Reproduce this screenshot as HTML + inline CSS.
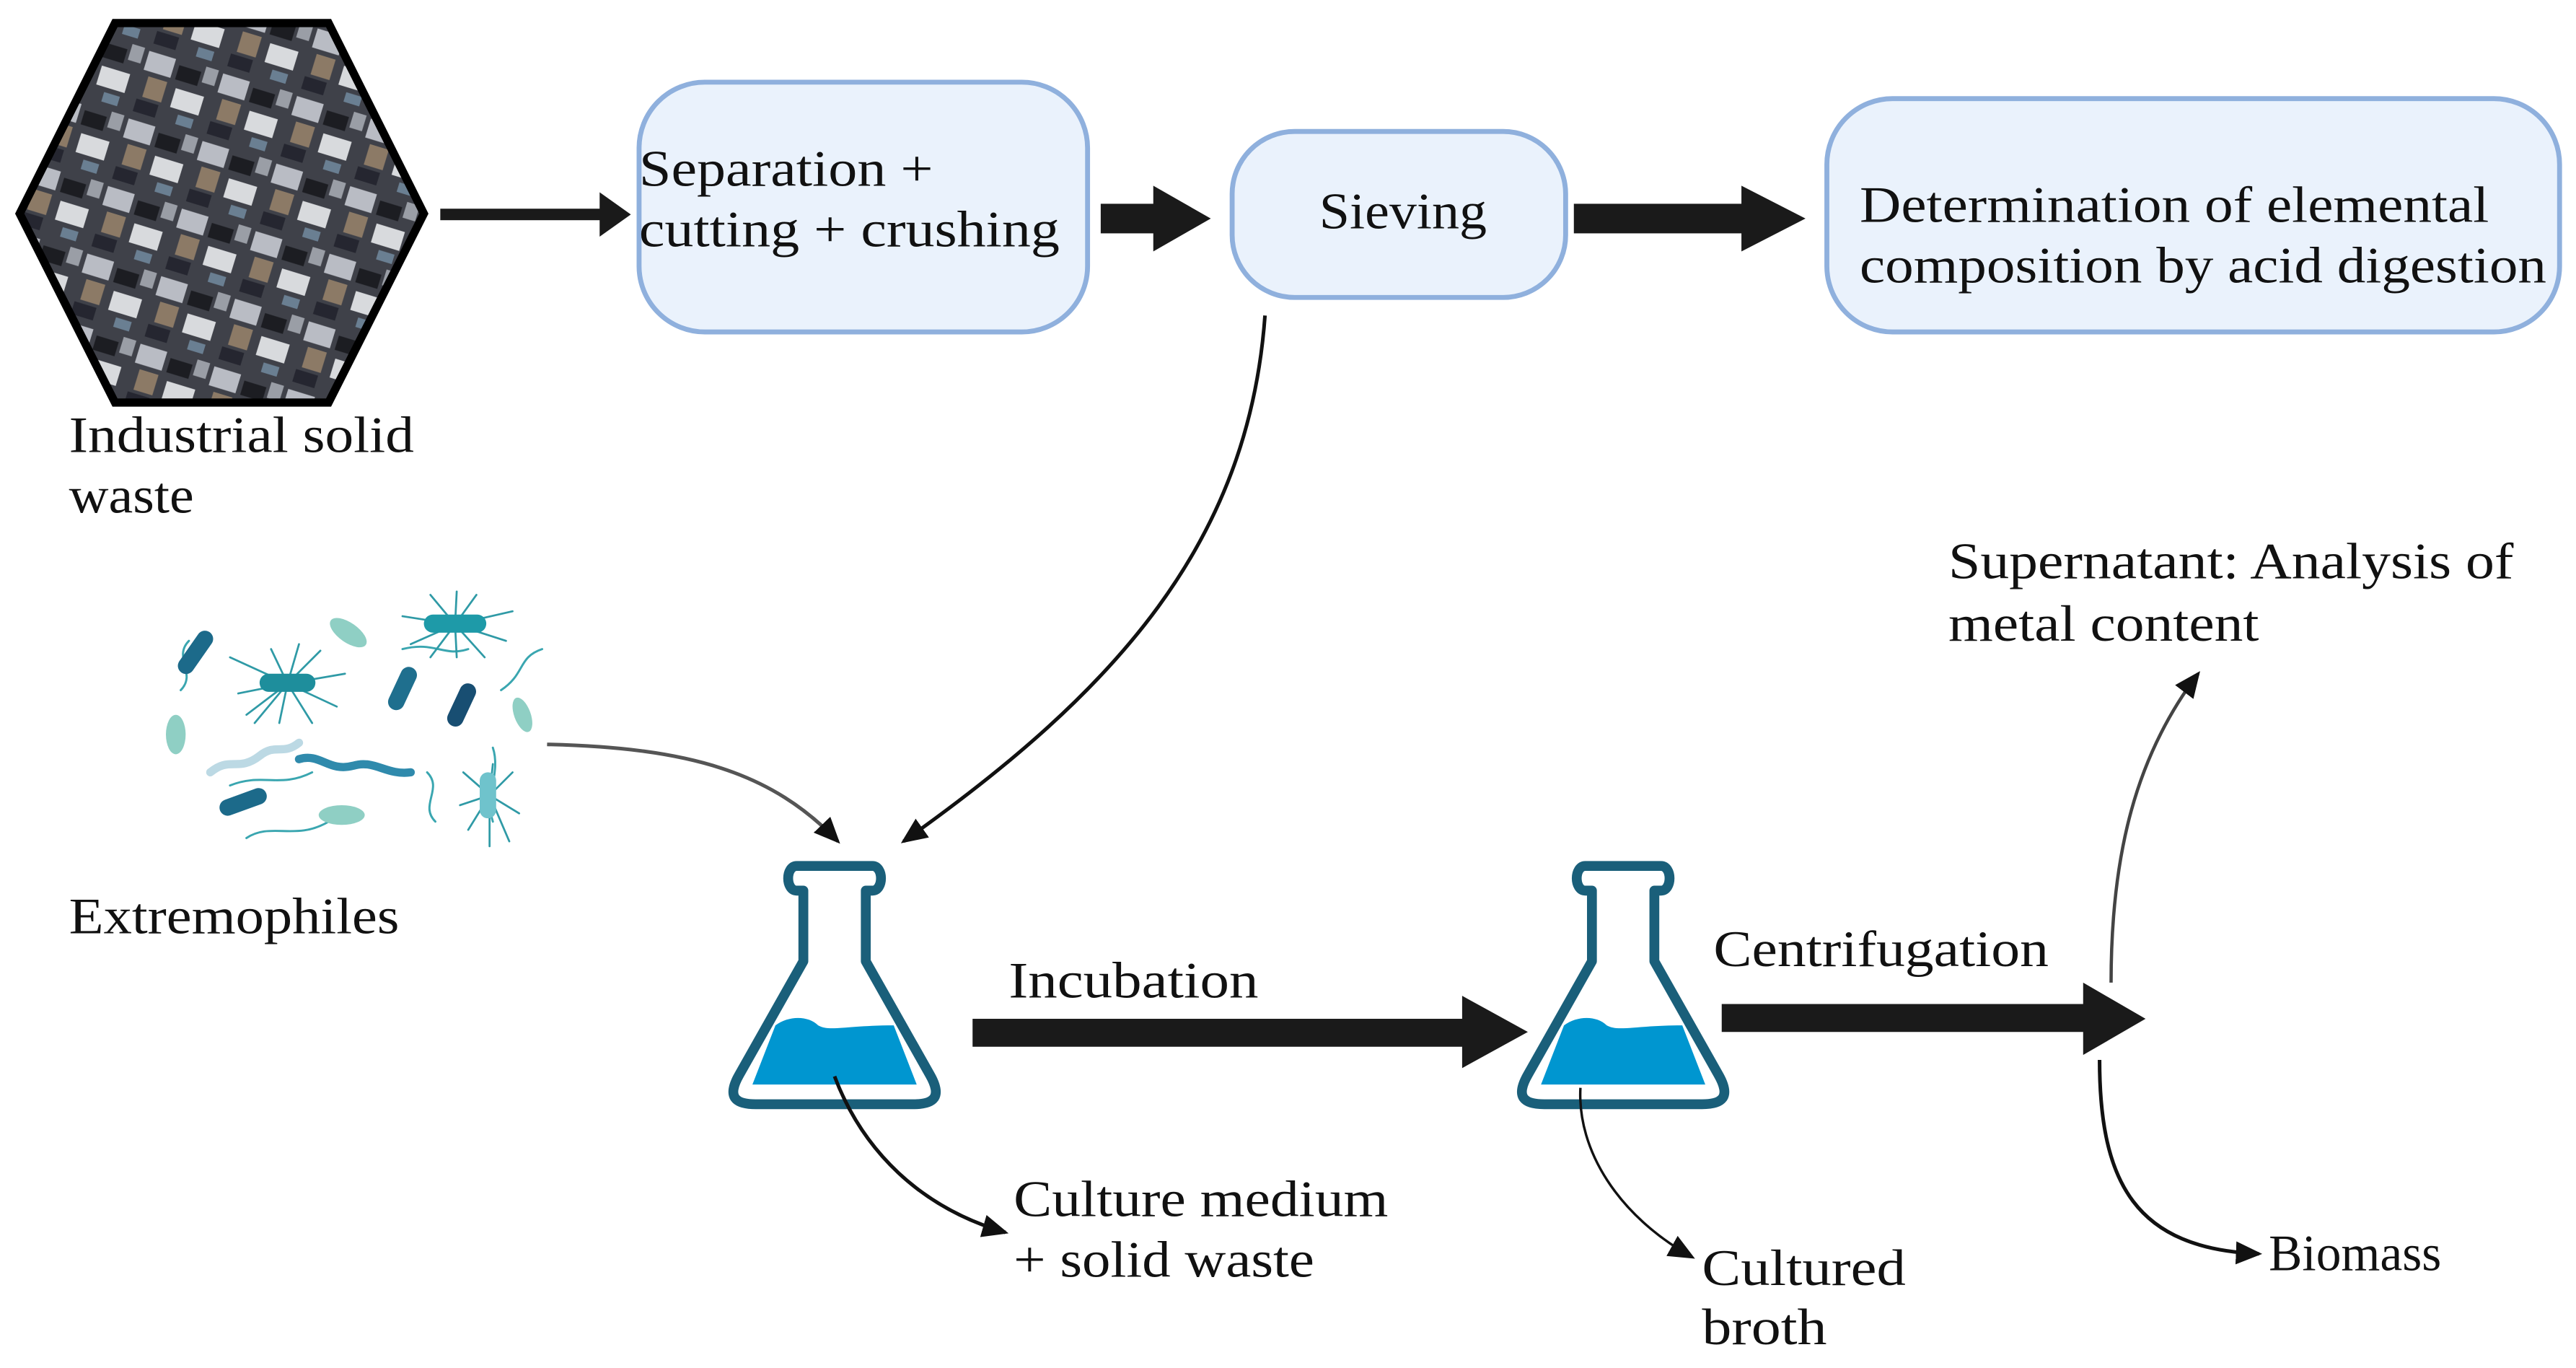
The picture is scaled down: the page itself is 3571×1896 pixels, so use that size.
<!DOCTYPE html>
<html><head><meta charset="utf-8"><style>
html,body{margin:0;padding:0;background:#fff;width:3571px;height:1896px;overflow:hidden}
svg{display:block}
text{font-family:"Liberation Serif",serif;font-size:31px;fill:#111}
</style></head><body>
<svg width="3571" height="1896" viewBox="0 0 1568 832.5" xmlns="http://www.w3.org/2000/svg">
<defs>
<marker id="ah2" markerWidth="16" markerHeight="14" refX="14" refY="7" orient="auto" markerUnits="userSpaceOnUse"><path d="M0,0 L16,7 L0,14 z" fill="#111"/></marker>
<pattern id="junk" width="47" height="43" patternUnits="userSpaceOnUse" patternTransform="rotate(17)">
<rect width="47" height="43" fill="#3f4149"/>
<rect x="2" y="3" width="17" height="12" fill="#b9bcc4"/><rect x="22" y="6" width="14" height="9" fill="#1c1d22"/>
<rect x="6" y="18" width="12" height="13" fill="#8c7a66"/><rect x="24" y="20" width="18" height="12" fill="#d8dadd"/>
<rect x="3" y="33" width="14" height="8" fill="#252630"/><rect x="30" y="35" width="10" height="6" fill="#6a7f92"/>
<rect x="38" y="2" width="8" height="10" fill="#9a9ea6"/>
</pattern>
</defs>

<polygon points="12,130 70,14 200,14 258,130 200,245 70,245" fill="url(#junk)" stroke="#000" stroke-width="5"/>
<text x="42" y="275" textLength="210" lengthAdjust="spacingAndGlyphs">Industrial solid</text>
<text x="42" y="312" textLength="76" lengthAdjust="spacingAndGlyphs">waste</text>

<rect x="268" y="127" width="100" height="7" fill="#1a1a1a"/>
<polygon points="365,117 384,130.5 365,144" fill="#1a1a1a"/>

<rect x="389" y="50" width="273" height="152" rx="40" fill="#eaf2fc" stroke="#8fb0dd" stroke-width="3"/>
<text x="389" y="113" textLength="179" lengthAdjust="spacingAndGlyphs">Separation +</text>
<text x="389" y="150" textLength="256" lengthAdjust="spacingAndGlyphs">cutting + crushing</text>

<rect x="670" y="124" width="34" height="18" fill="#1a1a1a"/>
<polygon points="702,113 737,133 702,153" fill="#1a1a1a"/>

<rect x="750" y="80" width="203" height="101" rx="38" fill="#eaf2fc" stroke="#8fb0dd" stroke-width="3"/>
<text x="803" y="139" textLength="102" lengthAdjust="spacingAndGlyphs">Sieving</text>

<rect x="958" y="124" width="104" height="18" fill="#1a1a1a"/>
<polygon points="1060,113 1099,133 1060,153" fill="#1a1a1a"/>

<rect x="1112" y="60" width="446" height="142" rx="40" fill="#eaf2fc" stroke="#8fb0dd" stroke-width="3"/>
<text x="1132" y="135" textLength="383" lengthAdjust="spacingAndGlyphs">Determination of elemental</text>
<text x="1132" y="172" textLength="418" lengthAdjust="spacingAndGlyphs">composition by acid digestion</text>

<path d="M770,192 C760,330 680,420 550,512" fill="none" stroke="#111" stroke-width="2.2" marker-end="url(#ah2)"/>

<g stroke-linecap="round" fill="none">
<g stroke="#3aa6b0" stroke-width="1.3">
<path d="M140,478 C160,470 170,480 190,470"/><path d="M150,510 C165,500 180,512 200,500"/>
<path d="M110,420 C120,410 105,400 115,390"/><path d="M300,455 C305,470 295,485 300,500"/>
<path d="M245,395 C265,390 270,400 285,395"/><path d="M260,470 C270,480 255,490 265,500"/>
<path d="M305,420 C320,410 315,400 330,395"/>
</g>
<g stroke="#2f9aa6" stroke-width="1.2">
<path d="M175,416 L140,400 M175,416 L145,422 M175,416 L150,435 M175,416 L165,395 M175,416 L182,392 M175,416 L195,396 M175,416 L210,410 M175,416 L205,430 M175,416 L190,440 M175,416 L170,440 M175,416 L155,440"/>
<path d="M277,380 L245,375 M277,380 L250,392 M277,380 L262,362 M277,380 L278,360 M277,380 L290,362 M277,380 L312,372 M277,380 L308,390 M277,380 L295,400 M277,380 L278,400 M277,380 L262,400"/>
<path d="M298,484 L282,470 M298,484 L280,490 M298,484 L285,505 M298,484 L300,465 M298,484 L312,470 M298,484 L316,495 M298,484 L310,512 M298,484 L298,515"/>
</g>
</g>
<g>
<rect x="158" y="410" width="34" height="11" rx="5.5" fill="#1e8e9c"/>
<rect x="258" y="374" width="38" height="11" rx="5.5" fill="#1e9aa8"/>
<rect x="292" y="470" width="10" height="28" rx="5" fill="#6fc3cc"/>
<rect x="114" y="382" width="10" height="30" rx="5" fill="#1c6a8a" transform="rotate(35 119 397)"/>
<rect x="240" y="405" width="10" height="28" rx="5" fill="#1f6f8e" transform="rotate(25 245 419)"/>
<rect x="276" y="415" width="10" height="28" rx="5" fill="#184e72" transform="rotate(25 281 429)"/>
<rect x="133" y="483" width="30" height="10" rx="5" fill="#1c6a8a" transform="rotate(-20 148 488)"/>
<ellipse cx="212" cy="385" rx="13" ry="6" fill="#8fcfc4" transform="rotate(35 212 385)"/>
<ellipse cx="107" cy="447" rx="6" ry="12" fill="#8fcfc4"/>
<ellipse cx="318" cy="435" rx="5" ry="11" fill="#8fcfc4" transform="rotate(-20 318 435)"/>
<ellipse cx="208" cy="496" rx="14" ry="6" fill="#8fcfc4"/>
<path d="M128,470 C140,460 145,470 158,460 C168,452 172,460 182,452" stroke="#bcd9e4" stroke-width="5" fill="none" stroke-linecap="round"/>
<path d="M182,462 C195,458 200,470 215,466 C228,462 235,472 250,470" stroke="#2f8aac" stroke-width="5" fill="none" stroke-linecap="round"/>
</g>

<path d="M333,453 C420,455 470,470 510,512" fill="none" stroke="#555" stroke-width="2.2" marker-end="url(#ah2)"/>
<text x="42" y="568" textLength="201" lengthAdjust="spacingAndGlyphs">Extremophiles</text>

<g id="f1">
<path d="M489,542 L485,542 C478,542 478,527 485,527 L531,527 C538,527 538,542 531,542 L527,542 L527,585 L566,654 C574,668 568,672 556,672 L460,672 C448,672 442,668 450,654 L489,585 Z" fill="#fff" stroke="#1a5f7a" stroke-width="6" stroke-linejoin="round"/>
<path d="M472,624 C480,618 492,618 498,624 C505,628 515,624 544,624 L558,660 L458,660 Z" fill="#0096d0"/>
</g>
<use href="#f1" transform="translate(480,0)"/>

<text x="614" y="607" textLength="152" lengthAdjust="spacingAndGlyphs">Incubation</text>
<rect x="592" y="620" width="300" height="17" fill="#1a1a1a"/>
<polygon points="890,606 930,628 890,650" fill="#1a1a1a"/>

<text x="1043" y="588" textLength="204" lengthAdjust="spacingAndGlyphs">Centrifugation</text>
<rect x="1048" y="611" width="222" height="17" fill="#1a1a1a"/>
<polygon points="1268,598 1306,620 1268,642" fill="#1a1a1a"/>

<path d="M508,655 C525,700 560,735 612,750" fill="none" stroke="#111" stroke-width="2.2" marker-end="url(#ah2)"/>
<text x="617" y="740" textLength="228" lengthAdjust="spacingAndGlyphs">Culture medium</text>
<text x="617" y="777" textLength="183" lengthAdjust="spacingAndGlyphs">+ solid waste</text>

<path d="M962,662 C960,700 985,740 1030,765" fill="none" stroke="#111" stroke-width="1.5" marker-end="url(#ah2)"/>
<text x="1036" y="782" textLength="124" lengthAdjust="spacingAndGlyphs">Cultured</text>
<text x="1036" y="818" textLength="76" lengthAdjust="spacingAndGlyphs">broth</text>

<path d="M1285,598 C1285,520 1300,460 1338,410" fill="none" stroke="#444" stroke-width="2" marker-end="url(#ah2)"/>
<text x="1186" y="352" textLength="344" lengthAdjust="spacingAndGlyphs">Supernatant: Analysis of</text>
<text x="1186" y="390" textLength="189" lengthAdjust="spacingAndGlyphs">metal content</text>

<path d="M1278,645 C1278,720 1300,760 1375,763" fill="none" stroke="#111" stroke-width="2.2" marker-end="url(#ah2)"/>
<text x="1381" y="773" textLength="105" lengthAdjust="spacingAndGlyphs">Biomass</text>
</svg>
</body></html>
